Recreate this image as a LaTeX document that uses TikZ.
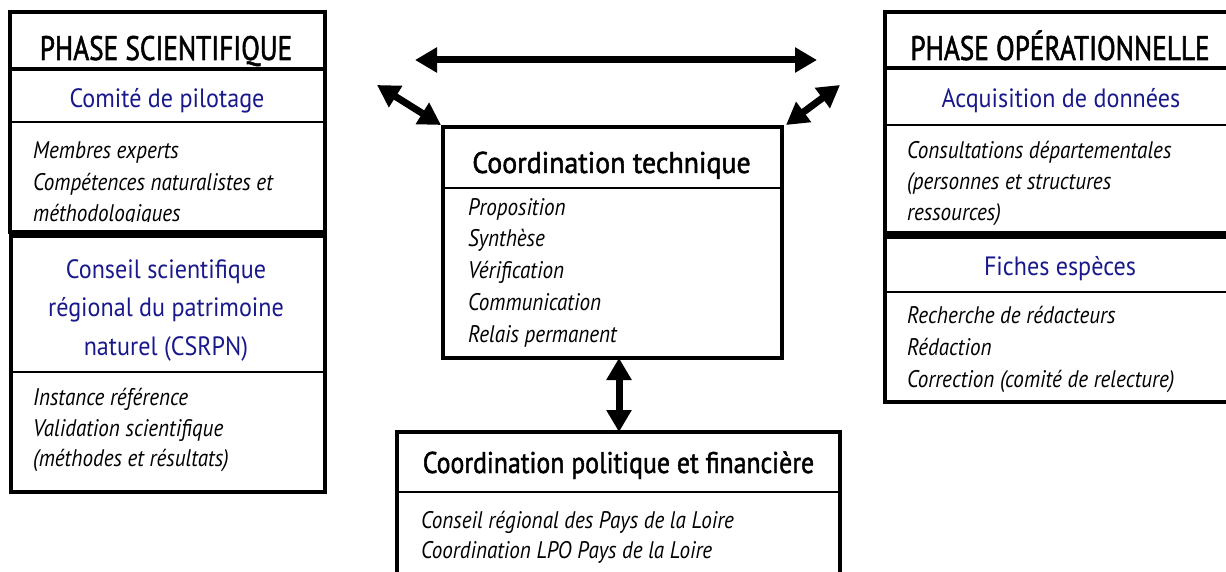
\documentclass[tikz,border=0pt]{standalone}
\usepackage{fontspec}
\setmainfont{PT Sans}[FakeStretch=0.8]
\newfontfamily\phasefont{PT Sans}[FakeStretch=0.8,FakeBold=1.5]
\newfontfamily\techfont{PT Sans}[FakeStretch=0.93,FakeBold=1.5]
\newfontfamily\polfont{PT Sans}[FakeStretch=0.86,FakeBold=1.5]
\newfontfamily\bluefont{PT Sans}[FakeStretch=0.91]
\newfontfamily\itemfamily{PT Sans}[FakeStretch=0.88]
\usetikzlibrary{arrows.meta}
\definecolor{navy}{RGB}{25,25,140}
\begin{document}
\begin{tikzpicture}[x=1pt,y=-1pt,
  panel/.style={draw, line width=4.5pt, rectangle, inner sep=0pt, outer sep=0pt, anchor=north west},
  septhick/.style={line width=4.5pt},
  septhin/.style={line width=1.6pt},
  phasetitle/.style={anchor=base, inner sep=0pt, font=\phasefont\fontsize{34}{34}\selectfont},
  bluetitle/.style={anchor=base, inner sep=0pt, text=navy, font=\bluefont\fontsize{26.5}{26.5}\selectfont},
  techtitle/.style={anchor=base, inner sep=0pt, font=\techfont\fontsize{30}{30}\selectfont},
  poltitle/.style={anchor=base, inner sep=0pt, font=\polfont\fontsize{30}{30}\selectfont},
  item/.style={anchor=base west, inner sep=0pt, font=\itemfamily\fontsize{24}{24}\selectfont\itshape},
  dblarrow/.style={line width=7pt, {Triangle[length=22pt,width=24pt]}-{Triangle[length=22pt,width=24pt]}}
]
\clip (0,0) rectangle (1226,572);
\fill[white] (0,0) rectangle (1226,572);

% ---------- left: phase scientifique ----------
\node[panel, minimum width=315pt, minimum height=220pt] (sci) at (10,12) {};
\draw[septhick] (sci.west |- 0,69) -- (sci.east |- 0,69);
\draw[septhin] (sci.west |- 0,122) -- (sci.east |- 0,122);
\node[phasetitle] (scit) at (166,60) {PHASE SCIENTIFIQUE};
\node[bluetitle] (copil) at (167,108) {Comité de pilotage};
\node[item] (m1) at (33,159) {Membres experts};
\node[item] (m2) at (33,191) {Compétences naturalistes et};
\begin{scope}
  \clip (10,160) rectangle (325,222);
  \node[item] (m3) at (33,222) {méthodologiques};
\end{scope}

\node[panel, minimum width=314pt, minimum height=256pt] (csr) at (11,236) {};
\draw[septhin] (csr.west |- 0,372) -- (csr.east |- 0,372);
\node[bluetitle] (c1) at (166,278) {Conseil scientifique};
\node[bluetitle] (c2) at (166,316.5) {régional du patrimoine};
\node[bluetitle] (c3) at (166,355) {naturel (CSRPN)};
\node[item] (i1) at (33,405) {Instance référence};
\node[item] (i2) at (33,436) {Validation scientifique};
\node[item] (i3) at (33,466) {(méthodes et résultats)};

% ---------- centre: coordination technique ----------
\node[panel, minimum width=339pt, minimum height=231pt] (ct) at (443,127) {};
\draw[septhin] (ct.west |- 0,188) -- (ct.east |- 0,188);
\node[techtitle] (ctt) at (611.5,173) {Coordination technique};
\node[item] (t1) at (468,215) {Proposition};
\node[item] (t2) at (468,247) {Synthèse};
\node[item] (t3) at (468,278) {Vérification};
\node[item] (t4) at (468,310) {Communication};
\node[item] (t5) at (468,342) {Relais permanent};

% ---------- bottom: coordination politique ----------
\node[panel, minimum width=443pt, minimum height=180pt] (pf) at (397,432) {};
\draw[septhin] (pf.west |- 0,492) -- (pf.east |- 0,492);
\node[poltitle] (pft) at (618.5,473) {Coordination politique et financière};
\node[item] (p1) at (421,528) {Conseil régional des Pays de la Loire};
\node[item] (p2) at (421,558) {Coordination LPO Pays de la Loire};

% ---------- right: phase opérationnelle ----------
\node[panel, minimum width=360pt, minimum height=221pt] (op) at (885,12) {};
\draw[septhick] (op.west |- 0,68) -- (op.east |- 0,68);
\draw[septhin] (op.west |- 0,125) -- (op.east |- 0,125);
\node[phasetitle] (opt) at (1060,60) {PHASE OPÉRATIONNELLE};
\node[bluetitle] (acq) at (1061,108) {Acquisition de données};
\node[item] (a1) at (907,159) {Consultations départementales};
\node[item] (a2) at (907,190) {(personnes et structures};
\node[item] (a3) at (907,221) {ressources)};

\node[panel, minimum width=360pt, minimum height=165pt] (fe) at (885,237) {};
\draw[septhin] (fe.west |- 0,292) -- (fe.east |- 0,292);
\node[bluetitle] (fet) at (1060,275) {Fiches espèces};
\node[item] (f1) at (907,323) {Recherche de rédacteurs};
\node[item] (f2) at (907,355) {Rédaction};
\node[item] (f3) at (907,387) {Correction (comité de relecture)};

% ---------- arrows ----------
\coordinate (hl) at (415,60);
\coordinate (hr) at (817,60);
\draw[dblarrow] (hl) -- (hr);
\coordinate (dl) at (377,85);
\coordinate (dr) at (840,85);
\draw[dblarrow] (dl) -- ([shift={(-2pt,2pt)}]ct.north west);
\draw[dblarrow] (dr) -- ([shift={(4pt,2pt)}]ct.north east);
\draw[dblarrow] (ct.south -| 619,0) -- (pf.north -| 619,0);
\end{tikzpicture}
\end{document}
